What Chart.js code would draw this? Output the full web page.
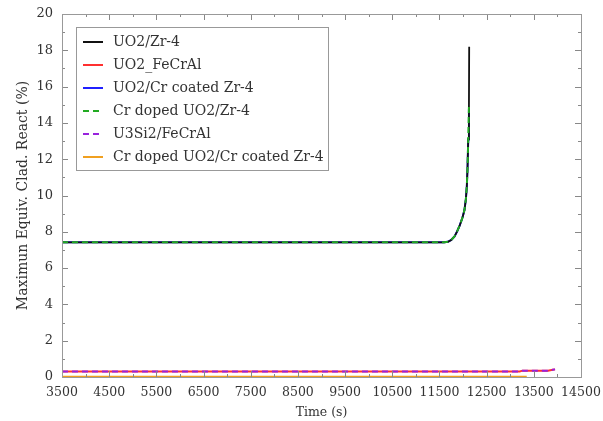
<!DOCTYPE html>
<html>
<head>
<meta charset="utf-8">
<script src="https://cdn.jsdelivr.net/npm/chart.js@4/dist/chart.umd.min.js"></script>
<style>
  html, body { margin: 0; padding: 0; background: #fff; }
  #wrap { width: 603px; height: 421px; }
</style>
</head>
<body>
<div id="wrap"><canvas id="myChart" width="603" height="421"></canvas></div>
<script>
// Series data (time in s, value in %)
var seriesNames = ['UO2/Zr-4', 'UO2_FeCrAl', 'UO2/Cr coated Zr-4', 'Cr doped UO2/Zr-4', 'U3Si2/FeCrAl', 'Cr doped UO2/Cr coated Zr-4'];

var zrTime   = [3500, 11600, 11680, 11750, 11820, 11870, 11930, 11990, 12030, 12060, 12080, 12095, 12110, 12125, 12130];
var zrValue  = [7.42, 7.42, 7.45, 7.55, 7.75, 8.0, 8.35, 8.8, 9.2, 9.8, 10.5, 11.5, 13.1, 14.9, 18.2];

var cfzTime  = [3500, 11600, 11680, 11750, 11820, 11870, 11930, 11990, 12030, 12060, 12080, 12095, 12110, 12125];
var cfzValue = [7.42, 7.42, 7.45, 7.55, 7.75, 8.0, 8.35, 8.8, 9.2, 9.8, 10.5, 11.5, 13.1, 14.8];

var dopTime  = [3500, 11600, 11680, 11750, 11820, 11870, 11930, 11990, 12030, 12060, 12080, 12095, 12110, 12125];
var dopValue = [7.42, 7.42, 7.45, 7.55, 7.75, 8.0, 8.35, 8.8, 9.2, 9.8, 10.5, 11.5, 13.1, 14.9];

var fecrTime  = [3500, 13200, 13260, 13800, 13900, 13950];
var fecrValue = [0.3, 0.3, 0.35, 0.35, 0.4, 0.42];

var siTime   = [3500, 13200, 13260, 13800, 13900, 13950];
var siValue  = [0.3, 0.3, 0.35, 0.35, 0.4, 0.42];

var dopCrTime  = [3500, 13350];
var dopCrValue = [0.02, 0.02];

var xTicks = [3500, 4500, 5500, 6500, 7500, 8500, 9500, 10500, 11500, 12500, 13500, 14500];
var yTicks = [0, 2, 4, 6, 8, 10, 12, 14, 16, 18, 20];

function pts(t, v) {
    return t.map(function(x, i) { return { x: x, y: v[i] }; });
}

var font = '"DejaVu Serif", "Liberation Serif", serif';

// boxed legend drawn inside the plot area
var boxLegend = {
    id: 'boxLegend',
    afterDatasetsDraw: function(chart) {
        var c = chart.ctx, a = chart.chartArea;
        var x0 = a.left + 14, y0 = a.top + 13, w = 252, h = 143;
        c.save();
        c.fillStyle = '#fff';
        c.fillRect(x0, y0, w, h);
        c.strokeStyle = '#999';
        c.lineWidth = 1;
        c.strokeRect(x0 + 0.5, y0 + 0.5, w, h);
        c.font = '14px ' + font;
        c.textBaseline = 'middle';
        chart.data.datasets.forEach(function(ds, i) {
            var yy = y0 + 15 + i * 23;
            c.strokeStyle = ds.borderColor;
            c.lineWidth = 2;
            c.setLineDash(ds.borderDash || []);
            c.beginPath();
            c.moveTo(x0 + 7, yy);
            c.lineTo(x0 + 27, yy);
            c.stroke();
            c.setLineDash([]);
            c.fillStyle = '#333';
            c.fillText(ds.label, x0 + 37, yy);
        });
        c.restore();
    }
};

// inward tick marks on all four sides
var innerTicks = {
    id: 'innerTicks',
    afterDraw: function(chart) {
        var c = chart.ctx, a = chart.chartArea;
        var sx = chart.scales.x, sy = chart.scales.y;
        c.save();
        c.strokeStyle = '#888';
        c.lineWidth = 1;
        c.beginPath();
        for (var t = 3500; t <= 14500; t += 500) {
            var px = Math.round(sx.getPixelForValue(t)) + 0.5;
            var len = ((t - 3500) % 1000 === 0) ? 6 : 3;
            c.moveTo(px, a.bottom); c.lineTo(px, a.bottom - len);
            c.moveTo(px, a.top); c.lineTo(px, a.top + len);
        }
        for (var v = 0; v <= 20; v += 1) {
            var py = Math.round(sy.getPixelForValue(v)) + 0.5;
            var l2 = (v % 2 === 0) ? 6 : 3;
            c.moveTo(a.left, py); c.lineTo(a.left + l2, py);
            c.moveTo(a.right, py); c.lineTo(a.right - l2, py);
        }
        c.stroke();
        c.strokeStyle = '#999';
        c.strokeRect(a.left + 0.5, a.top + 0.5, a.right - a.left, a.bottom - a.top);
        c.restore();
    }
};

var ctx = document.getElementById('myChart');

var myChart = new Chart(ctx, {
    type: 'line',
    data: {
        datasets: [
            { label: seriesNames[0], data: pts(zrTime, zrValue), borderColor: '#111111', borderWidth: 1.8, order: 3 },
            { label: seriesNames[1], data: pts(fecrTime, fecrValue), borderColor: '#ff3030', borderWidth: 2, order: 5 },
            { label: seriesNames[2], data: pts(cfzTime, cfzValue), borderColor: '#2020ff', borderWidth: 2, order: 4 },
            { label: seriesNames[3], data: pts(dopTime, dopValue), borderColor: '#22aa22', borderWidth: 2, borderDash: [6, 4], order: 1 },
            { label: seriesNames[4], data: pts(siTime, siValue), borderColor: '#9922dd', borderWidth: 2, borderDash: [6, 4], order: 2 },
            { label: seriesNames[5], data: pts(dopCrTime, dopCrValue), borderColor: '#f0a020', borderWidth: 2, order: 6 }
        ]
    },
    options: {
        responsive: false,
        animation: false,
        elements: { point: { radius: 0 }, line: { tension: 0, fill: false } },
        layout: { padding: { top: 14, right: 22, left: 0, bottom: 0 } },
        plugins: { legend: { display: false }, tooltip: { enabled: false } },
        scales: {
            x: {
                type: 'linear',
                min: 3500, max: 14500,
                afterBuildTicks: function(s) { s.ticks = xTicks.map(function(v) { return { value: v }; }); },
                afterFit: function(s) { s.height = 44; },
                grid: { display: false },
                border: { display: false },
                ticks: {
                    color: '#333', font: { family: font, size: 12.5 }, padding: 0, maxRotation: 0, autoSkip: false,
                    callback: function(v) { return String(v); }
                },
                title: { display: true, text: 'Time (s)', color: '#333', font: { family: font, size: 12.5 }, padding: { top: 5, bottom: 1 } }
            },
            y: {
                min: 0, max: 20,
                afterBuildTicks: function(s) { s.ticks = yTicks.map(function(v) { return { value: v }; }); },
                afterFit: function(s) { s.width = 62; },
                grid: { display: false },
                border: { display: false },
                ticks: { color: '#333', font: { family: font, size: 13 }, padding: 1 },
                title: { display: true, text: 'Maximun Equiv. Clad. React (%)', color: '#333', font: { family: font, size: 14 }, padding: { top: 15, bottom: 2 } }
            }
        }
    },
    plugins: [boxLegend, innerTicks]
});
</script>
</body>
</html>
